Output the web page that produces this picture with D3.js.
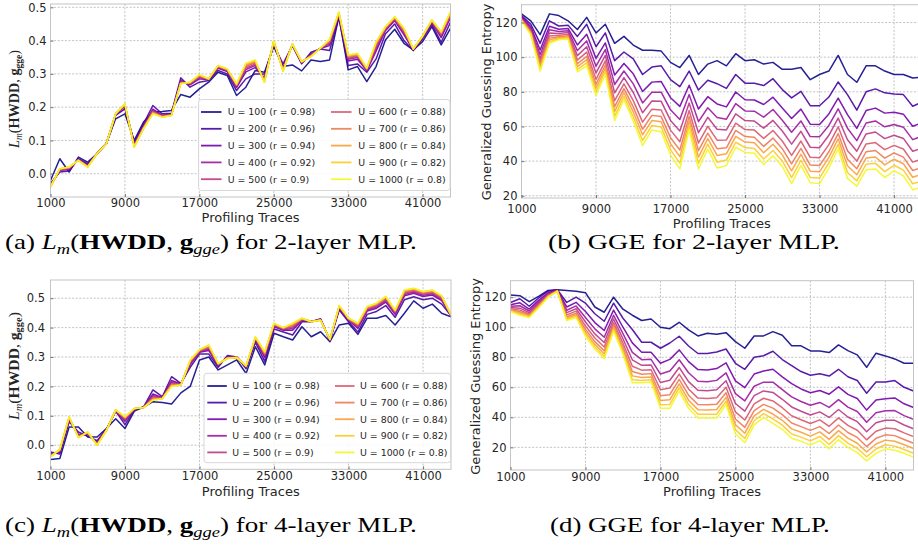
<!DOCTYPE html>
<html><head><meta charset="utf-8">
<script src="https://cdn.jsdelivr.net/npm/d3@7"></script>
<style>body{margin:0;background:#fff;} svg{display:block;}</style>
</head><body>
<svg id="c" width="918" height="546"></svg>
<script>
// ---------------- DATA ----------------
const traces = [1000,2000,3000,4000,5000,6000,7000,8000,9000,10000,11000,12000,13000,14000,15000,16000,17000,18000,19000,20000,21000,22000,23000,24000,25000,26000,27000,28000,29000,30000,31000,32000,33000,34000,35000,36000,37000,38000,39000,40000,41000,42000,43000,44000];
const xTicks = [1000,9000,17000,25000,33000,41000];
const hwddTicks = [0.0,0.1,0.2,0.3,0.4,0.5];
const ggeTicks = [20,40,60,80,100,120];
const legendLabels = ["U = 100 (r = 0.98)","U = 200 (r = 0.96)","U = 300 (r = 0.94)","U = 400 (r = 0.92)","U = 500 (r = 0.9)","U = 600 (r = 0.88)","U = 700 (r = 0.86)","U = 800 (r = 0.84)","U = 900 (r = 0.82)","U = 1000 (r = 0.8)"];

// (a) Lm(HWDD, g_gge), 2-layer MLP
const hwdd2_u100 = [-0.02,0.045,0.005,0.05,0.035,0.06,0.09,0.165,0.18,0.1,0.155,0.185,0.187,0.19,0.238,0.23,0.255,0.275,0.305,0.295,0.235,0.26,0.31,0.305,0.382,0.322,0.327,0.309,0.342,0.337,0.342,0.472,0.312,0.322,0.277,0.322,0.402,0.434,0.392,0.372,0.397,0.442,0.387,0.437];
const hwdd2_u200 = [-0.03,0.005,0.008,0.045,0.03,0.06,0.09,0.175,0.195,0.095,0.15,0.205,0.18,0.182,0.288,0.26,0.275,0.28,0.31,0.3,0.25,0.285,0.3,0.3,0.385,0.33,0.385,0.33,0.365,0.375,0.37,0.47,0.325,0.33,0.305,0.345,0.42,0.45,0.4,0.37,0.405,0.448,0.395,0.455];
const hwdd2_u300 = [-0.035,0.010,0.013,0.043,0.026,0.061,0.089,0.177,0.202,0.088,0.143,0.194,0.176,0.179,0.280,0.267,0.285,0.282,0.317,0.307,0.259,0.306,0.319,0.288,0.392,0.320,0.387,0.333,0.359,0.376,0.385,0.477,0.339,0.344,0.310,0.368,0.430,0.460,0.417,0.372,0.409,0.454,0.409,0.469];
const hwdd2_u400 = [-0.036,0.011,0.015,0.042,0.024,0.060,0.091,0.178,0.204,0.086,0.141,0.190,0.174,0.178,0.277,0.269,0.289,0.283,0.319,0.309,0.262,0.313,0.325,0.284,0.394,0.316,0.388,0.334,0.357,0.376,0.390,0.479,0.344,0.349,0.312,0.376,0.433,0.463,0.422,0.373,0.410,0.456,0.414,0.474];
const hwdd2_u500 = [-0.037,0.012,0.016,0.042,0.023,0.062,0.090,0.179,0.206,0.085,0.140,0.188,0.173,0.177,0.275,0.271,0.291,0.284,0.321,0.311,0.264,0.318,0.329,0.282,0.396,0.314,0.389,0.335,0.356,0.376,0.394,0.481,0.347,0.352,0.313,0.381,0.435,0.465,0.426,0.374,0.411,0.458,0.417,0.477];
const hwdd2_u600 = [-0.038,0.013,0.017,0.041,0.022,0.061,0.092,0.179,0.207,0.083,0.138,0.186,0.172,0.177,0.274,0.272,0.293,0.284,0.322,0.312,0.266,0.322,0.333,0.280,0.397,0.312,0.389,0.335,0.355,0.377,0.397,0.482,0.350,0.355,0.314,0.386,0.437,0.467,0.429,0.374,0.412,0.459,0.420,0.480];
const hwdd2_u700 = [-0.039,0.014,0.018,0.041,0.021,0.060,0.090,0.179,0.208,0.082,0.137,0.184,0.171,0.176,0.272,0.273,0.295,0.284,0.323,0.313,0.267,0.325,0.336,0.278,0.398,0.310,0.389,0.336,0.354,0.377,0.399,0.483,0.353,0.358,0.315,0.390,0.439,0.469,0.432,0.374,0.413,0.460,0.423,0.483];
const hwdd2_u800 = [-0.039,0.014,0.019,0.040,0.021,0.061,0.089,0.180,0.209,0.081,0.136,0.182,0.171,0.176,0.271,0.274,0.296,0.285,0.324,0.314,0.268,0.328,0.339,0.276,0.399,0.309,0.390,0.336,0.353,0.377,0.401,0.484,0.354,0.359,0.316,0.393,0.440,0.470,0.434,0.375,0.413,0.461,0.424,0.484];
const hwdd2_u900 = [-0.040,0.015,0.020,0.040,0.020,0.060,0.090,0.180,0.210,0.080,0.135,0.181,0.170,0.175,0.271,0.275,0.297,0.285,0.325,0.315,0.269,0.331,0.341,0.275,0.400,0.308,0.390,0.337,0.352,0.377,0.403,0.485,0.356,0.361,0.317,0.395,0.441,0.471,0.436,0.375,0.414,0.462,0.426,0.486];
const hwdd2_u1000 = [-0.04,0.015,0.02,0.04,0.02,0.06,0.09,0.18,0.21,0.08,0.135,0.18,0.17,0.175,0.27,0.275,0.298,0.285,0.325,0.315,0.27,0.332,0.342,0.274,0.4,0.307,0.39,0.337,0.352,0.377,0.404,0.485,0.357,0.362,0.317,0.397,0.442,0.472,0.437,0.375,0.414,0.462,0.427,0.487];

// (b) GGE, 2-layer MLP
const gge2_u100 = [125,121,113,125,124,121,116,123,114,119,108,112,107,104,104,103.5,97,94,101,90,96,98,95,102,98,98.5,96,97,93,93,94,87,90,92,101,90,85.5,95,95,92,90,90,88,88.5];
const gge2_u200 = [124,119,108,121,118,118.5,112,119,106,114,98,103,99,90,94.3,95,87,83,92,81,86.7,84.7,82,90,85,85,83.6,87.6,81.3,76.5,80.3,72,72,77,85.7,78.4,69.4,80,81.7,79.4,78.8,78.4,71.7,74];
const gge2_u300 = [123.3,117.6,104.2,117.9,116.1,116.6,107.1,113.2,99.3,108.2,89.7,96.4,90.4,80.2,85.6,85.9,76.6,71.6,83.8,70.1,77.2,73,71.3,79.9,75.4,75.3,72.7,76.9,70.7,64.6,70,61.3,61.2,67.2,76.4,66.8,58.9,69.2,70.6,67.7,68.2,67.1,60.1,62.2];
const gge2_u400 = [122.8,116.6,101.6,115.8,114.8,115.3,103.8,109.4,94.8,104.4,84.2,92,84.6,73.6,79.8,79.8,69.6,64,78.4,62.8,70.8,65.2,64.2,73.2,69,68.8,65.4,69.8,63.6,56.7,63.2,54.2,54,60.6,70.2,59,51.8,62,63.2,59.8,61.1,59.6,52.4,54.4];
const gge2_u500 = [122.4,115.8,99.4,114,113.7,114.2,100.9,106,90.9,101,79.4,88.2,79.6,67.9,74.7,74.5,63.5,57.4,73.6,56.4,65.3,58.4,58,67.3,63.4,63.1,59,63.5,57.4,49.8,57.2,48,47.7,54.9,64.8,52.3,45.7,55.7,56.8,53,54.9,53.1,45.7,47.5];
const gge2_u600 = [122,115,97.3,112.3,112.6,113.1,98.3,102.9,87.2,97.9,74.9,84.6,74.9,62.5,70,69.5,57.9,51.2,69.2,50.5,60.1,52.1,52.2,61.9,58.2,57.9,53.1,57.7,51.6,43.3,51.6,42.2,41.9,49.5,59.8,46,40,49.9,50.7,46.6,49.1,47,39.4,41.2];
const gge2_u700 = [121.7,114.4,95.7,111,111.8,112.3,96.2,100.5,84.4,95.5,71.4,81.8,71.3,58.4,66.4,65.7,53.5,46.4,65.8,46,56.1,47.2,47.7,57.7,54.2,53.8,48.5,53.3,47.2,38.4,47.3,37.7,37.4,45.4,55.9,41.1,35.6,45.4,46.1,41.7,44.7,42.3,34.6,36.3];
const gge2_u800 = [121.5,113.9,94.4,110,111.2,111.7,94.6,98.6,82.2,93.6,68.7,79.6,68.4,55.2,63.4,62.7,50,42.6,63.1,42.3,53,43.3,44.2,54.3,51,50.6,44.8,49.7,43.6,34.4,43.9,34.2,33.8,42.2,52.8,37.3,32.1,41.8,42.4,37.8,41.1,38.5,30.7,32.4];
const gge2_u900 = [121.2,113.4,93.1,108.9,110.6,111.1,92.9,96.7,80,91.7,65.9,77.4,65.5,51.9,60.5,59.7,46.5,38.8,60.4,38.7,49.8,39.4,40.6,50.9,47.8,47.3,41.2,46.1,40.1,30.5,40.5,30.6,30.2,38.9,49.7,33.4,28.6,38.2,38.7,33.9,37.6,34.8,26.9,28.4];
const gge2_u1000 = [121,113,92,108,110,110.5,91.5,95,78,90,63.5,75.5,63,49,58,57,43.5,35.5,58,35.5,47,36,37.5,48,45,44.5,38,43,37,27,37.5,27.5,27,36,47,30,25.5,35,35.5,30.5,34.5,31.5,23.5,25];

// (c) Lm(HWDD, g_gge), 4-layer MLP
const hwdd4_u100 = [-0.049,-0.045,0.062,0.062,0.028,0.028,0.057,0.09,0.057,0.116,0.13,0.148,0.145,0.14,0.178,0.2,0.29,0.3,0.256,0.273,0.29,0.244,0.335,0.273,0.381,0.369,0.358,0.403,0.369,0.386,0.352,0.409,0.415,0.377,0.432,0.432,0.441,0.409,0.449,0.491,0.466,0.48,0.449,0.437];
const hwdd4_u200 = [-0.023,-0.03,0.08,0.045,0.03,0.015,0.055,0.115,0.07,0.12,0.13,0.188,0.165,0.233,0.21,0.265,0.31,0.31,0.265,0.305,0.3,0.26,0.35,0.285,0.395,0.385,0.375,0.42,0.42,0.43,0.355,0.46,0.42,0.385,0.445,0.455,0.475,0.435,0.495,0.505,0.495,0.5,0.48,0.44];
const hwdd4_u300 = [-0.030,-0.024,0.087,0.037,0.036,0.009,0.053,0.117,0.081,0.122,0.129,0.174,0.162,0.220,0.208,0.275,0.316,0.322,0.270,0.301,0.299,0.264,0.358,0.298,0.403,0.391,0.391,0.425,0.421,0.428,0.357,0.466,0.425,0.397,0.456,0.466,0.487,0.445,0.508,0.517,0.506,0.511,0.492,0.441];
const hwdd4_u400 = [-0.032,-0.021,0.089,0.034,0.038,0.007,0.052,0.118,0.085,0.123,0.129,0.169,0.161,0.215,0.207,0.279,0.318,0.327,0.272,0.300,0.299,0.266,0.360,0.303,0.406,0.393,0.397,0.427,0.420,0.427,0.358,0.468,0.427,0.402,0.460,0.470,0.492,0.449,0.513,0.521,0.510,0.515,0.496,0.442];
const hwdd4_u500 = [-0.034,-0.019,0.091,0.032,0.040,0.005,0.052,0.118,0.088,0.123,0.129,0.165,0.160,0.211,0.207,0.282,0.320,0.331,0.274,0.298,0.299,0.267,0.363,0.307,0.408,0.395,0.402,0.428,0.422,0.427,0.358,0.470,0.428,0.405,0.463,0.474,0.496,0.452,0.517,0.524,0.514,0.519,0.499,0.442];
const hwdd4_u600 = [-0.036,-0.018,0.093,0.030,0.042,0.003,0.051,0.119,0.091,0.124,0.128,0.161,0.160,0.208,0.206,0.284,0.322,0.334,0.275,0.297,0.298,0.268,0.365,0.310,0.410,0.397,0.406,0.429,0.421,0.426,0.359,0.472,0.429,0.408,0.466,0.477,0.499,0.454,0.520,0.527,0.517,0.522,0.502,0.442];
const hwdd4_u700 = [-0.037,-0.016,0.094,0.028,0.043,0.002,0.051,0.119,0.093,0.124,0.128,0.158,0.159,0.205,0.206,0.286,0.323,0.336,0.276,0.297,0.298,0.269,0.366,0.313,0.412,0.398,0.409,0.430,0.420,0.426,0.359,0.473,0.430,0.411,0.468,0.479,0.501,0.456,0.523,0.530,0.519,0.524,0.505,0.443];
const hwdd4_u800 = [-0.039,-0.015,0.096,0.027,0.044,0.001,0.050,0.120,0.095,0.125,0.128,0.156,0.159,0.203,0.205,0.288,0.324,0.339,0.277,0.296,0.298,0.269,0.367,0.315,0.413,0.399,0.412,0.431,0.421,0.425,0.360,0.474,0.431,0.413,0.470,0.481,0.504,0.458,0.525,0.532,0.521,0.526,0.507,0.443];
const hwdd4_u900 = [-0.039,-0.014,0.096,0.026,0.045,0.000,0.050,0.120,0.096,0.125,0.128,0.154,0.158,0.201,0.205,0.289,0.325,0.340,0.278,0.295,0.298,0.270,0.368,0.317,0.414,0.400,0.414,0.432,0.420,0.425,0.360,0.475,0.432,0.414,0.471,0.482,0.505,0.459,0.527,0.533,0.522,0.527,0.508,0.443];
const hwdd4_u1000 = [-0.04,-0.014,0.097,0.025,0.045,0.0,0.05,0.12,0.097,0.125,0.128,0.153,0.158,0.2,0.205,0.29,0.325,0.341,0.278,0.295,0.298,0.27,0.369,0.318,0.415,0.4,0.415,0.432,0.42,0.425,0.36,0.475,0.432,0.415,0.472,0.483,0.506,0.46,0.528,0.534,0.523,0.528,0.509,0.443];

// (d) GGE, 4-layer MLP
const gge4_u100 = [121.5,121,117,120.5,124.5,125,124.5,124,123,113.5,110,120,112,108,104.5,105.5,100,99,103.3,98.2,94.2,96,95.3,96.4,90.4,86,94.2,94.2,97.1,94.7,87.6,87.6,84.2,84.2,83.1,88.2,84.4,81.6,73.3,82.7,80.9,78.9,76,76];
const gge4_u200 = [116.5,119,114,119.5,124,125,116.5,120,116,109,104,116,106,98.5,90,90,86,89.5,94,87.5,82.5,82.5,83.5,85.5,76,72,80,81,84,78.5,74.5,70.5,68,69,67.5,72,67,64.5,56,63.5,63.5,64.5,60,57.5];
const gge4_u300 = [115,116.3,112.1,117.9,123,124.8,113.5,116.6,110.5,103.1,97.8,111.4,100,89.6,83.3,83.4,76,78.6,84.9,77.1,71.8,71.5,72.5,76.3,64.3,59.8,68.8,70.8,72,66.9,62.4,58.9,56.4,57.9,55.4,60.3,55.3,52.5,44.8,51.6,52.4,52.9,49,46.5];
const gge4_u400 = [113.9,114.3,110.8,116.7,122.3,124.6,111.3,114.2,106.5,98.9,93.3,108,95.7,83.2,78.4,78.6,68.8,70.8,78.3,69.7,64,63.7,64.6,69.6,55.8,50.9,60.7,63.4,63.4,58.5,53.6,50.5,48,49.9,46.6,51.8,46.8,43.9,36.7,43.1,44.4,44.5,41.1,38.6];
const gge4_u500 = [113.1,112.7,109.7,115.8,121.7,124.4,109.7,112.3,103.5,95.6,89.8,105.5,92.3,78.3,74.6,74.9,63.2,64.7,73.2,63.8,58,57.7,58.4,64.4,49.2,44.1,54.4,57.6,56.6,52,46.9,44,41.5,43.6,39.9,45.2,40.2,37.1,30.4,36.4,38.1,38,34.9,32.4];
const gge4_u600 = [112.4,111.4,108.8,115,121.2,124.3,108.2,110.7,100.8,92.8,86.8,103.2,89.4,74,71.4,71.7,58.4,59.5,68.8,58.9,52.8,52.6,53.1,60,43.6,38.2,49,52.7,50.9,46.4,41,38.4,35.9,38.3,34,39.6,34.6,31.4,25,30.7,32.8,32.4,29.6,27.1];
const gge4_u700 = [111.8,110.3,108.1,114.4,120.8,124.2,107,109.3,98.6,90.4,84.3,101.4,87,70.5,68.7,69.1,54.4,55.1,65.2,54.7,48.5,48.3,48.7,56.3,38.9,33.3,44.5,48.6,46.1,41.8,36.2,33.8,31.3,33.8,29.2,34.9,29.9,26.6,20.5,26,28.3,27.8,25.2,22.7];
const gge4_u800 = [111.3,109.4,107.5,113.8,120.5,124.1,106,108.3,96.9,88.6,82.3,99.9,85.1,67.6,66.5,66.9,51.2,51.7,62.2,51.4,45.1,44.9,45.2,53.3,35.1,29.4,40.9,45.3,42.2,38,32.3,30,27.5,30.3,25.3,31.1,26.1,22.7,16.9,22.2,24.8,24,21.7,19.2];
const gge4_u900 = [110.9,108.7,107,113.4,120.2,124.1,105.2,107.3,95.3,86.9,80.5,98.6,83.4,65.1,64.6,65.1,48.4,48.6,59.7,48.5,42.1,42,42.1,50.7,31.8,25.9,37.7,42.5,38.9,34.8,28.9,26.8,24.3,27.2,21.9,27.8,22.8,19.4,13.7,18.9,21.7,20.8,18.6,16.1];
const gge4_u1000 = [110.5,108,106.5,113,120,124,104.5,106.5,94,85.5,79,97.5,82,63,63,63.5,46,46,57.5,46,39.5,39.5,39.5,48.5,29,23,35,40,36,32,26,24,21.5,24.5,19,25,20,16.5,11,16,19,18,16,13.5];

// ---------------- DRAWING ----------------
const svg = d3.select("#c");
const SANS = "DejaVu Sans, sans-serif";
const SERIF = "Liberation Serif, serif";
const colors = legendLabels.map((d, k) => d3.interpolatePlasma(k / 9));
const defs = svg.append("defs");

const panels = [
  {id:"a", series:[hwdd2_u100,hwdd2_u200,hwdd2_u300,hwdd2_u400,hwdd2_u500,hwdd2_u600,hwdd2_u700,hwdd2_u800,hwdd2_u900,hwdd2_u1000],
   left:50.5, right:450.5, top:4, bottom:197, yDom:[-0.07,0.51], yTicks:hwddTicks, fmt:d3.format(".1f"),
   xPad:1.8, yPad:4, xTitle:[250.5,222], yLab:{type:"hwdd", x:19, y:99, len:98},
   legend:{x0:198.5,y0:99.5,x1:450,y1:190.5,h1:201,t1:227.7,h2:331,t2:358.3,hw:20.5,row0:112,dy:16.8}},
  {id:"b", series:[gge2_u100,gge2_u200,gge2_u300,gge2_u400,gge2_u500,gge2_u600,gge2_u700,gge2_u800,gge2_u900,gge2_u1000],
   left:521.5, right:922, top:4.7, bottom:198, yDom:[18.7,130.3], yTicks:ggeTicks, fmt:d3.format("d"),
   xPad:6.8, yPad:4, xTitle:[721.8,227.8], yLab:{type:"gge", x:491, y:102}},
  {id:"c", series:[hwdd4_u100,hwdd4_u200,hwdd4_u300,hwdd4_u400,hwdd4_u500,hwdd4_u600,hwdd4_u700,hwdd4_u800,hwdd4_u900,hwdd4_u1000],
   left:50.5, right:451, top:280, bottom:469.3, yDom:[-0.082,0.562], yTicks:hwddTicks, fmt:d3.format(".1f"),
   xPad:2.5, yPad:5.5, xTitle:[250.8,496], yLab:{type:"hwdd", x:19, y:366, len:108},
   legend:{x0:204,y0:373.3,x1:450.5,y1:462.7,h1:207.3,t1:232.3,h2:335,t2:360,hw:19.5,row0:386,dy:16.6}},
  {id:"d", series:[gge4_u100,gge4_u200,gge4_u300,gge4_u400,gge4_u500,gge4_u600,gge4_u700,gge4_u800,gge4_u900,gge4_u1000],
   left:510.5, right:913.5, top:280.7, bottom:470, yDom:[4.9,131], yTicks:ggeTicks, fmt:d3.format("d"),
   xPad:3, yPad:4, xTitle:[712,496], yLab:{type:"gge", x:479.5, y:376.5}}
];

function drawPanel(p) {
  const g = svg.append("g");
  const x = d3.scaleLinear().domain([traces[0], traces[traces.length - 1]]).range([p.left, p.right]);
  const y = d3.scaleLinear().domain(p.yDom).range([p.bottom, p.top]);
  const cid = "clip-" + p.id;
  defs.append("clipPath").attr("id", cid).append("rect")
    .attr("x", p.left).attr("y", p.top).attr("width", p.right - p.left).attr("height", p.bottom - p.top);

  // grid
  const grid = g.append("g").attr("stroke", "#b4b4b4").attr("stroke-width", 0.8).attr("stroke-dasharray", "2,1.6");
  grid.selectAll(".gx").data(xTicks).join("line").attr("class","gx")
    .attr("x1", d => x(d)).attr("x2", d => x(d)).attr("y1", p.top).attr("y2", p.bottom);
  grid.selectAll(".gy").data(p.yTicks).join("line").attr("class","gy")
    .attr("x1", p.left).attr("x2", p.right).attr("y1", d => y(d)).attr("y2", d => y(d));

  // series lines
  const line = d3.line().x((d, i) => x(traces[i])).y(d => y(d));
  g.append("g").attr("clip-path", `url(#${cid})`)
    .selectAll("path").data(p.series).join("path")
    .attr("d", line).attr("fill", "none")
    .attr("stroke", (d, i) => colors[i]).attr("stroke-width", 1.5)
    .attr("stroke-opacity", 0.9).attr("stroke-linejoin", "round");

  // frame
  g.append("rect").attr("x", p.left).attr("y", p.top)
    .attr("width", p.right - p.left).attr("height", p.bottom - p.top)
    .attr("fill", "none").attr("stroke", "#c4c4c4").attr("stroke-width", 1);

  // x axis
  const ax = g.append("g").attr("transform", `translate(0,${p.bottom})`)
    .call(d3.axisBottom(x).tickValues(xTicks).tickSize(-3).tickPadding(p.xPad).tickFormat(d3.format("d")));
  ax.select(".domain").remove();
  ax.selectAll("line").attr("stroke", "#777");
  ax.selectAll("text").attr("font-family", SANS).attr("font-size", 11.5).attr("fill", "#262626");

  // y axis
  const ay = g.append("g").attr("transform", `translate(${p.left},0)`)
    .call(d3.axisLeft(y).tickValues(p.yTicks).tickSize(-3).tickPadding(p.yPad).tickFormat(p.fmt));
  ay.select(".domain").remove();
  ay.selectAll("line").attr("stroke", "#777");
  ay.selectAll("text").attr("font-family", SANS).attr("font-size", 11.5).attr("fill", "#262626");

  // x title
  g.append("text").attr("x", p.xTitle[0]).attr("y", p.xTitle[1]).attr("text-anchor", "middle")
    .attr("font-family", SANS).attr("font-size", 13).attr("fill", "#262626").text("Profiling Traces");

  // y title
  if (p.yLab.type === "gge") {
    g.append("text").attr("transform", `translate(${p.yLab.x},${p.yLab.y}) rotate(-90)`)
      .attr("text-anchor", "middle").attr("font-family", SANS).attr("font-size", 13).attr("fill", "#262626")
      .text("Generalized Guessing Entropy");
  } else {
    const t = g.append("text").attr("font-family", SERIF).attr("font-size", 15).attr("fill", "#262626");
    t.append("tspan").attr("font-style", "italic").text("L");
    t.append("tspan").attr("font-style", "italic").attr("font-size", 10).attr("dy", 3).text("m");
    t.append("tspan").attr("dy", -3).text("(");
    t.append("tspan").attr("font-weight", "bold").text("HWDD");
    t.append("tspan").text(", ");
    t.append("tspan").attr("font-weight", "bold").text("g");
    t.append("tspan").attr("font-weight", "bold").attr("font-size", 10).attr("dy", 3).text("gge");
    t.append("tspan").attr("dy", -3).text(")");
    const w = t.node().getComputedTextLength();
    const s = p.yLab.len / w;
    t.attr("transform", `translate(${p.yLab.x},${p.yLab.y}) rotate(-90) scale(${s},1) translate(${-w / 2},0)`);
  }

  // legend
  if (p.legend) {
    const L = p.legend;
    const lg = g.append("g");
    lg.append("rect").attr("x", L.x0).attr("y", L.y0).attr("width", L.x1 - L.x0).attr("height", L.y1 - L.y0)
      .attr("rx", 3).attr("fill", "#fff").attr("fill-opacity", 0.85).attr("stroke", "#d8d8d8");
    legendLabels.forEach((lab, k) => {
      const col = k < 5 ? 0 : 1, row = k % 5;
      const cy = L.row0 + row * L.dy;
      const hx = col ? L.h2 : L.h1;
      lg.append("line").attr("x1", hx).attr("x2", hx + L.hw).attr("y1", cy).attr("y2", cy)
        .attr("stroke", colors[k]).attr("stroke-width", 1.8).attr("stroke-opacity", 0.9);
      lg.append("text").attr("x", col ? L.t2 : L.t1).attr("y", cy).attr("dy", "0.36em")
        .attr("font-family", SANS).attr("font-size", 9.4).attr("fill", "#262626").text(lab);
    });
  }
}
panels.forEach(drawPanel);

// captions
function caption(x0, base, targetW, parts) {
  const t = svg.append("text").attr("font-family", SERIF).attr("font-size", 22).attr("fill", "#000");
  parts.forEach(pt => {
    const ts = t.append("tspan").text(pt.t);
    if (pt.i) ts.attr("font-style", "italic");
    if (pt.b) ts.attr("font-weight", "bold");
    if (pt.sub) ts.attr("font-size", 15).attr("dy", 4.5);
    if (pt.up) ts.attr("dy", -4.5);
  });
  const w = t.node().getComputedTextLength();
  t.attr("transform", `translate(${x0},${base}) scale(${targetW / w},1)`);
}
function hwddCaption(letter, layers) {
  return [
    {t: "(" + letter + ") "}, {t: "L", i: 1}, {t: "m", i: 1, sub: 1}, {t: "(", up: 1},
    {t: "HWDD", b: 1}, {t: ", "}, {t: "g", b: 1}, {t: "gge", i: 1, sub: 1}, {t: ")", up: 1},
    {t: " for " + layers + "-layer MLP."}
  ];
}
caption(5, 249, 412, hwddCaption("a", 2));
caption(548, 249, 292, [{t: "(b) GGE for 2-layer MLP."}]);
caption(5, 532, 412, hwddCaption("c", 4));
caption(550, 532, 280, [{t: "(d) GGE for 4-layer MLP."}]);
</script>
</body></html>
